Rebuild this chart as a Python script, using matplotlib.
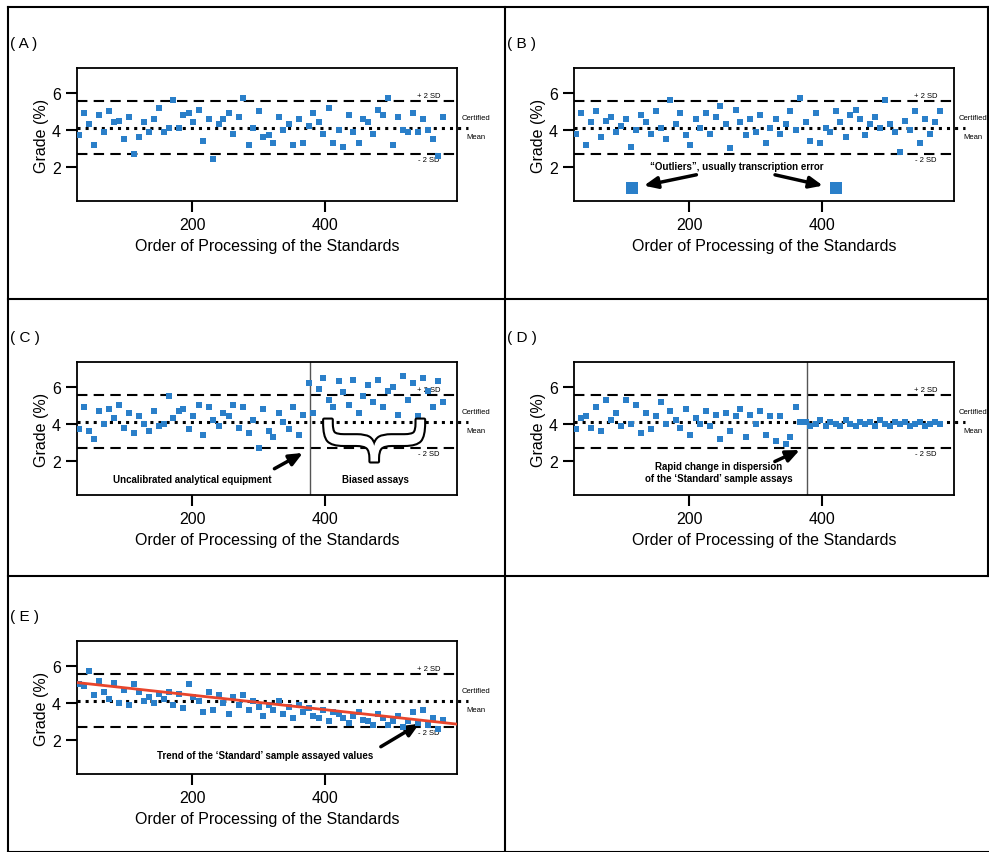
import matplotlib
matplotlib.use("Agg")
import matplotlib.pyplot as plt
from matplotlib.lines import Line2D
import matplotlib.patheffects as pe

plt.rcParams['font.family'] = ['Liberation Sans', 'DejaVu Sans']

xs = [30,38,45,52,60,68,75,82,90,97,105,112,120,127,135,142,150,157,165,172,
      180,187,195,202,210,217,225,232,240,247,255,262,270,277,285,292,300,307,315,322,
      330,337,345,352,360,367,375,382,390,397,405,412,420,427,435,442,450,457,465,472,
      480,487,495,502,510,517,525,532,540,547,555,562,570,577]
ya = [3.7,4.9,4.3,3.2,4.8,3.9,5.0,4.4,4.5,3.5,4.7,2.7,3.6,4.4,3.9,4.6,5.2,3.9,4.1,5.6,
      4.1,4.8,4.9,4.4,5.1,3.4,4.6,2.4,4.3,4.6,4.9,3.8,4.7,5.7,3.2,4.1,5.0,3.6,3.7,3.3,
      4.7,4.0,4.3,3.2,4.6,3.3,4.2,4.9,4.4,3.8,5.2,3.3,4.0,3.1,4.8,3.9,3.3,4.6,4.4,3.8,
      5.1,4.8,5.7,3.2,4.7,4.0,3.9,4.9,3.9,4.6,4.0,3.5,2.6,4.7]
yb = [3.8,4.9,3.2,4.4,5.0,3.6,4.5,4.7,3.9,4.2,4.6,3.1,4.0,4.8,4.4,3.8,5.0,4.1,3.5,5.6,
      4.3,4.9,3.7,3.2,4.6,4.1,4.9,3.8,4.7,5.3,4.3,3.0,5.1,4.4,3.7,4.6,3.9,4.8,3.3,4.1,
      4.6,3.8,4.3,5.0,4.0,5.7,4.4,3.4,4.9,3.3,4.1,3.9,5.0,4.4,3.6,4.8,5.1,4.6,3.7,4.3,
      4.7,4.1,5.6,4.3,3.9,2.8,4.5,4.0,5.0,3.3,4.6,3.8,4.4,5.0]
outlier_x = [114, 421]
outlier_y = [0.85, 0.85]
yc = [3.7,4.9,3.6,3.2,4.7,4.0,4.8,4.3,5.0,3.8,4.6,3.5,4.4,4.0,3.6,4.7,3.9,4.0,5.5,4.3,
      4.7,4.8,3.7,4.4,5.0,3.4,4.9,4.2,3.9,4.6,4.4,5.0,3.8,4.9,3.5,4.2,2.7,4.8,3.6,3.3,
      4.6,4.1,3.7,4.9,3.4,4.5,
      6.2,4.6,5.9,6.5,5.3,4.9,6.3,5.7,5.0,6.4,4.6,5.5,6.1,5.2,6.4,4.9,5.8,6.0,4.5,6.6,
      5.3,6.2,4.4,6.5,5.8,4.9,6.3,5.2]
yd = [3.7,4.3,4.4,3.8,4.9,3.6,5.3,4.2,4.6,3.9,5.3,4.0,5.0,3.5,4.6,3.7,4.4,5.2,4.0,4.7,
      4.2,3.8,4.8,3.4,4.3,4.0,4.7,3.9,4.5,3.2,4.6,3.6,4.4,4.8,3.3,4.5,4.0,4.7,3.4,4.4,
      3.1,4.4,2.9,3.3,4.9,4.1,
      4.1,3.9,4.0,4.2,3.9,4.1,4.0,3.9,4.2,4.0,3.9,4.1,4.0,4.1,3.9,4.2,4.0,3.9,4.1,4.0,
      4.1,3.9,4.0,4.1,3.9,4.0,4.1,4.0]
ye = [5.0,4.9,5.7,4.4,5.2,4.6,4.2,5.1,4.0,4.7,3.9,5.0,4.6,4.1,4.3,4.0,4.5,4.2,4.6,3.9,
      4.5,3.7,5.0,4.3,4.1,3.5,4.6,3.6,4.4,4.0,3.4,4.3,3.9,4.4,3.6,4.1,3.8,3.3,3.9,3.6,
      4.1,3.4,3.8,3.2,3.9,3.5,3.7,3.3,3.2,3.6,3.0,3.5,3.4,3.2,2.9,3.3,3.5,3.1,3.0,2.8,
      3.4,3.2,2.8,3.0,3.3,2.7,3.0,3.5,2.9,3.6,2.8,3.2,2.6,3.1]
trend_x = [27, 598]
trend_y = [5.1, 2.85]
mean, sd_hi, sd_lo = 4.1, 5.55, 2.7
split_x = 377

W, H = 989, 853
fig = plt.figure(figsize=(W/100, H/100), dpi=100)
BLUE = '#2a7fc9'

for (x0, y0, x1, y1) in [(8, 8, 989, 8), (8, 853, 989, 853), (8, 8, 8, 853), (988, 8, 988, 577),
                         (505, 8, 505, 853), (8, 300, 989, 300), (8, 577, 989, 577)]:
    fig.add_artist(Line2D([x0/W, x1/W], [1-y0/H, 1-y1/H], color='black', lw=1.5))

def make_ax(ox, oy, label):
    ax = fig.add_axes([(77+ox)/W, 1-(202+oy)/H, 380/W, 133/H])
    ax.set_xlim(27, 598)
    ax.set_ylim(0.15, 7.35)
    ax.set_xticks([200, 400])
    ax.set_yticks([2, 4, 6])
    ax.tick_params(direction='out', length=8, width=1.5, labelsize=11.5)
    for s in ax.spines.values():
        s.set_linewidth(1.3)
    ax.set_xlabel('Order of Processing of the Standards', fontsize=11.5)
    ax.set_ylabel('Grade (%)', fontsize=11.5, labelpad=2)
    ax.axhline(sd_hi, color='black', ls=(0, (5, 3)), lw=1.5)
    ax.axhline(sd_lo, color='black', ls=(0, (5, 3)), lw=1.5)
    ax.plot([27, 615], [mean, mean], color='black', ls=':', lw=2.2, clip_on=False, zorder=3)
    ax.text(555, sd_hi + 0.1, '+ 2 SD', fontsize=5.5, ha='center', va='bottom')
    ax.text(555, sd_lo - 0.1, '- 2 SD', fontsize=5.5, ha='center', va='top')
    ax.text(605, mean + 0.55, 'Certified', fontsize=5.5, ha='left', va='center', clip_on=False)
    ax.text(612, mean - 0.45, 'Mean', fontsize=5.5, ha='left', va='center', clip_on=False)
    fig.text((10+ox)/W, 1-(44+oy)/H, label, fontsize=11, ha='left', va='center')
    return ax

def pts(ax, x, y):
    ax.scatter(x, y, marker='s', s=16, color=BLUE, zorder=4, linewidths=0)

arrow = dict(arrowstyle='-|>,head_width=0.35,head_length=0.8', color='black', lw=2.5)

ax = make_ax(0, 0, '( A )')
pts(ax, xs, ya)

ax = make_ax(497, 0, '( B )')
pts(ax, xs, yb)
ax.scatter(outlier_x, outlier_y, marker='s', s=70, color=BLUE, zorder=4, linewidths=0)
ax.text(272, 2.05, '“Outliers”, usually transcription error', fontsize=7, fontweight='bold', ha='center', va='center')
ax.annotate('', xy=(128, 0.95), xytext=(215, 1.6), arrowprops=arrow)
ax.annotate('', xy=(405, 0.95), xytext=(325, 1.6), arrowprops=arrow)

ax = make_ax(0, 294, '( C )')
pts(ax, xs, yc)
ax.axvline(split_x, color='#555555', lw=1)
ax.text(200, 1.0, 'Uncalibrated analytical equipment', fontsize=7, fontweight='bold', ha='center', va='center')
ax.annotate('', xy=(370, 2.5), xytext=(320, 1.5), arrowprops=arrow)
ax.text(475, 1.0, 'Biased assays', fontsize=7, fontweight='bold', ha='center', va='center')
ax.text(470, 3.1, '}', fontsize=78, rotation=-90, ha='center', va='center', color='white',
        family='DejaVu Sans', zorder=6,
        path_effects=[pe.withStroke(linewidth=3, foreground='black')])

ax = make_ax(497, 294, '( D )')
pts(ax, xs, yd)
ax.axvline(split_x, color='#555555', lw=1)
ax.text(245, 1.4, 'Rapid change in dispersion\nof the ‘Standard’ sample assays', fontsize=7, fontweight='bold',
        ha='center', va='center', linespacing=1.3)
ax.annotate('', xy=(370, 2.65), xytext=(325, 1.9), arrowprops=arrow)

ax = make_ax(0, 573, '( E )')
pts(ax, xs, ye)
ax.plot(trend_x, trend_y, color='#e8452c', lw=2, zorder=5)
ax.text(310, 1.2, 'Trend of the ‘Standard’ sample assayed values', fontsize=7, fontweight='bold',
        ha='center', va='center')
ax.annotate('', xy=(545, 2.95), xytext=(480, 1.55), arrowprops=arrow)

fig.savefig('out.png', dpi=100)
